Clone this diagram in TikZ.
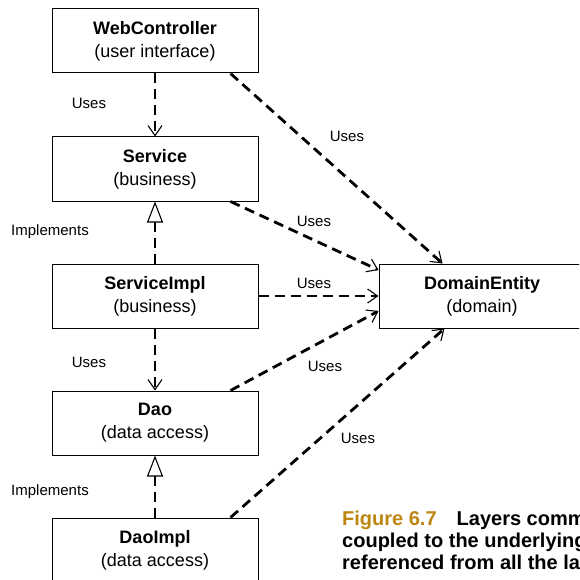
\documentclass[tikz,border=0pt]{standalone}
\usepackage{fontspec}
\setmainfont{Liberation Sans}
\newfontfamily\capfont{Liberation Sans}
\usetikzlibrary{arrows.meta}
\definecolor{figgold}{RGB}{188,134,16}

\begin{document}
\begin{tikzpicture}[x=1pt,y=-1pt,
  box/.style={draw, line width=1pt, minimum width=206pt, minimum height=64pt,
    align=center, font=\fontsize{18}{23}\selectfont, inner sep=0pt},
  dep/.style={line width=2.8pt, dash pattern=on 10pt off 6pt},
  uses/.style={dep, -{Straight Barb[length=10pt,width=14pt,line width=1.1pt]}},
  impl/.style={dep, -{Triangle[open,length=21pt,width=16pt,line width=1.1pt,fill=white]}},
  lbl/.style={font=\fontsize{15}{18}\selectfont, inner sep=0pt},
  capline/.style={anchor=base west, inner sep=0pt,
    font=\capfont\bfseries\fontsize{20}{22}\selectfont},
]
\path[use as bounding box] (0,0) rectangle (579,580);
\clip (0,0) rectangle (579,580);

% layer boxes
\node[box] (web)  at (155,41)  {\textbf{WebController}\\(user interface)};
\node[box] (svc)  at (155,169) {\textbf{Service}\\(business)};
\node[box] (simp) at (155,296) {\textbf{ServiceImpl}\\(business)};
\node[box] (dao)  at (155,423) {\textbf{Dao}\\(data access)};
\node[box] (dimp) at (155,550) {\textbf{DaoImpl}\\(data access)};
\node[box] (dom)  at (482,296) {\textbf{DomainEntity}\\(domain)};

% vertical dependencies
\draw[uses] (web.south) -- (svc.north);
\draw[impl] (simp.north) -- (svc.south);
\draw[uses] (simp.south) -- (dao.north);
\draw[impl] (dimp.north) -- (dao.south);

% everything uses the domain entity
\draw[uses] ([xshift=-28pt]web.south east) -- ([xshift=64pt]dom.north west);
\draw[uses] ([xshift=-28pt]svc.south east) -- ([yshift=26pt]dom.west);
\draw[uses] (simp.east) -- (dom.west);
\draw[uses] ([xshift=-28pt]dao.north east) -- ([yshift=-15pt]dom.west);
\draw[uses] ([xshift=-28pt]dimp.north east) -- ([xshift=66pt]dom.south west);

% connector labels
\node[lbl] (l1) at (89,103)  {Uses};
\node[lbl] (l2) at (347,136) {Uses};
\node[lbl] (l3) at (314,221) {Uses};
\node[lbl] (l4) at (50,232)  {Implements};
\node[lbl] (l5) at (314,283) {Uses};
\node[lbl] (l6) at (89,362)  {Uses};
\node[lbl] (l7) at (325,366) {Uses};
\node[lbl] (l8) at (358,438) {Uses};
\node[lbl] (l9) at (50,492)  {Implements};

% caption
\node[capline] (c1) at (342,525) {\textcolor{figgold}{Figure 6.7}\hspace{20pt}Layers comm};
\node[capline] (c2) at (342,547) {coupled to the underlying};
\node[capline] (c3) at (342,569) {referenced from all the la};
\end{tikzpicture}
\end{document}
